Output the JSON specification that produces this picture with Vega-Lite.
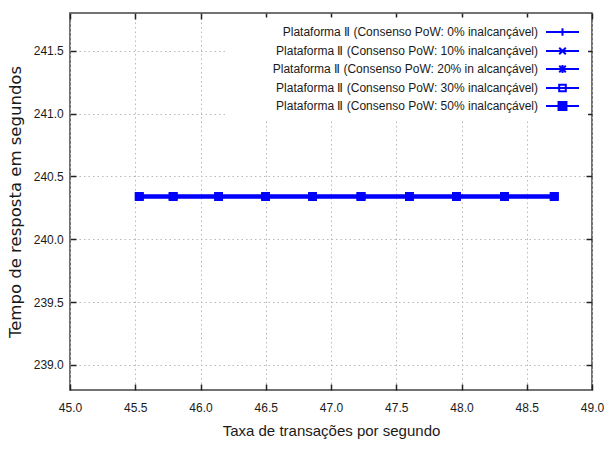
{
  "$schema": "https://vega.github.io/schema/vega-lite/v6.json",
  "width": 522,
  "height": 377,
  "autosize": "none",
  "padding": {"left": 70, "top": 13, "right": 13, "bottom": 59},
  "background": "white",
  "config": {
    "view": {"stroke": "#444444", "strokeWidth": 1.5},
    "font": "Liberation Sans"
  },
  "data": {
    "values": [
      {"taxa": 45.53, "tempo": 240.34, "serie": "Plataforma Ⅱ (Consenso PoW: 0% inalcançável)"},
      {"taxa": 45.79, "tempo": 240.34, "serie": "Plataforma Ⅱ (Consenso PoW: 0% inalcançável)"},
      {"taxa": 46.14, "tempo": 240.34, "serie": "Plataforma Ⅱ (Consenso PoW: 0% inalcançável)"},
      {"taxa": 46.50, "tempo": 240.34, "serie": "Plataforma Ⅱ (Consenso PoW: 0% inalcançável)"},
      {"taxa": 46.86, "tempo": 240.34, "serie": "Plataforma Ⅱ (Consenso PoW: 0% inalcançável)"},
      {"taxa": 47.23, "tempo": 240.34, "serie": "Plataforma Ⅱ (Consenso PoW: 0% inalcançável)"},
      {"taxa": 47.60, "tempo": 240.34, "serie": "Plataforma Ⅱ (Consenso PoW: 0% inalcançável)"},
      {"taxa": 47.96, "tempo": 240.34, "serie": "Plataforma Ⅱ (Consenso PoW: 0% inalcançável)"},
      {"taxa": 48.33, "tempo": 240.34, "serie": "Plataforma Ⅱ (Consenso PoW: 0% inalcançável)"},
      {"taxa": 48.71, "tempo": 240.34, "serie": "Plataforma Ⅱ (Consenso PoW: 0% inalcançável)"},
      {"taxa": 45.53, "tempo": 240.34, "serie": "Plataforma Ⅱ (Consenso PoW: 10% inalcançável)"},
      {"taxa": 45.79, "tempo": 240.34, "serie": "Plataforma Ⅱ (Consenso PoW: 10% inalcançável)"},
      {"taxa": 46.14, "tempo": 240.34, "serie": "Plataforma Ⅱ (Consenso PoW: 10% inalcançável)"},
      {"taxa": 46.50, "tempo": 240.34, "serie": "Plataforma Ⅱ (Consenso PoW: 10% inalcançável)"},
      {"taxa": 46.86, "tempo": 240.34, "serie": "Plataforma Ⅱ (Consenso PoW: 10% inalcançável)"},
      {"taxa": 47.23, "tempo": 240.34, "serie": "Plataforma Ⅱ (Consenso PoW: 10% inalcançável)"},
      {"taxa": 47.60, "tempo": 240.34, "serie": "Plataforma Ⅱ (Consenso PoW: 10% inalcançável)"},
      {"taxa": 47.96, "tempo": 240.34, "serie": "Plataforma Ⅱ (Consenso PoW: 10% inalcançável)"},
      {"taxa": 48.33, "tempo": 240.34, "serie": "Plataforma Ⅱ (Consenso PoW: 10% inalcançável)"},
      {"taxa": 48.71, "tempo": 240.34, "serie": "Plataforma Ⅱ (Consenso PoW: 10% inalcançável)"},
      {"taxa": 45.53, "tempo": 240.34, "serie": "Plataforma Ⅱ (Consenso PoW: 20% in alcançável)"},
      {"taxa": 45.79, "tempo": 240.34, "serie": "Plataforma Ⅱ (Consenso PoW: 20% in alcançável)"},
      {"taxa": 46.14, "tempo": 240.34, "serie": "Plataforma Ⅱ (Consenso PoW: 20% in alcançável)"},
      {"taxa": 46.50, "tempo": 240.34, "serie": "Plataforma Ⅱ (Consenso PoW: 20% in alcançável)"},
      {"taxa": 46.86, "tempo": 240.34, "serie": "Plataforma Ⅱ (Consenso PoW: 20% in alcançável)"},
      {"taxa": 47.23, "tempo": 240.34, "serie": "Plataforma Ⅱ (Consenso PoW: 20% in alcançável)"},
      {"taxa": 47.60, "tempo": 240.34, "serie": "Plataforma Ⅱ (Consenso PoW: 20% in alcançável)"},
      {"taxa": 47.96, "tempo": 240.34, "serie": "Plataforma Ⅱ (Consenso PoW: 20% in alcançável)"},
      {"taxa": 48.33, "tempo": 240.34, "serie": "Plataforma Ⅱ (Consenso PoW: 20% in alcançável)"},
      {"taxa": 48.71, "tempo": 240.34, "serie": "Plataforma Ⅱ (Consenso PoW: 20% in alcançável)"},
      {"taxa": 45.53, "tempo": 240.34, "serie": "Plataforma Ⅱ (Consenso PoW: 30% inalcançável)"},
      {"taxa": 45.79, "tempo": 240.34, "serie": "Plataforma Ⅱ (Consenso PoW: 30% inalcançável)"},
      {"taxa": 46.14, "tempo": 240.34, "serie": "Plataforma Ⅱ (Consenso PoW: 30% inalcançável)"},
      {"taxa": 46.50, "tempo": 240.34, "serie": "Plataforma Ⅱ (Consenso PoW: 30% inalcançável)"},
      {"taxa": 46.86, "tempo": 240.34, "serie": "Plataforma Ⅱ (Consenso PoW: 30% inalcançável)"},
      {"taxa": 47.23, "tempo": 240.34, "serie": "Plataforma Ⅱ (Consenso PoW: 30% inalcançável)"},
      {"taxa": 47.60, "tempo": 240.34, "serie": "Plataforma Ⅱ (Consenso PoW: 30% inalcançável)"},
      {"taxa": 47.96, "tempo": 240.34, "serie": "Plataforma Ⅱ (Consenso PoW: 30% inalcançável)"},
      {"taxa": 48.33, "tempo": 240.34, "serie": "Plataforma Ⅱ (Consenso PoW: 30% inalcançável)"},
      {"taxa": 48.71, "tempo": 240.34, "serie": "Plataforma Ⅱ (Consenso PoW: 30% inalcançável)"},
      {"taxa": 45.53, "tempo": 240.34, "serie": "Plataforma Ⅱ (Consenso PoW: 50% inalcançável)"},
      {"taxa": 45.79, "tempo": 240.34, "serie": "Plataforma Ⅱ (Consenso PoW: 50% inalcançável)"},
      {"taxa": 46.14, "tempo": 240.34, "serie": "Plataforma Ⅱ (Consenso PoW: 50% inalcançável)"},
      {"taxa": 46.50, "tempo": 240.34, "serie": "Plataforma Ⅱ (Consenso PoW: 50% inalcançável)"},
      {"taxa": 46.86, "tempo": 240.34, "serie": "Plataforma Ⅱ (Consenso PoW: 50% inalcançável)"},
      {"taxa": 47.23, "tempo": 240.34, "serie": "Plataforma Ⅱ (Consenso PoW: 50% inalcançável)"},
      {"taxa": 47.60, "tempo": 240.34, "serie": "Plataforma Ⅱ (Consenso PoW: 50% inalcançável)"},
      {"taxa": 47.96, "tempo": 240.34, "serie": "Plataforma Ⅱ (Consenso PoW: 50% inalcançável)"},
      {"taxa": 48.33, "tempo": 240.34, "serie": "Plataforma Ⅱ (Consenso PoW: 50% inalcançável)"},
      {"taxa": 48.71, "tempo": 240.34, "serie": "Plataforma Ⅱ (Consenso PoW: 50% inalcançável)"}
    ]
  },
  "layer": [
    {
      "mark": {"type": "line", "color": "#0000ff", "strokeWidth": 3.5},
      "encoding": {
        "x": {
          "field": "taxa",
          "type": "quantitative",
          "scale": {"domain": [45, 49], "nice": false, "zero": false},
          "axis": {
            "values": [45, 45.5, 46, 46.5, 47, 47.5, 48, 48.5, 49],
            "format": ".1f",
            "grid": true,
            "gridColor": "#b8b8b8",
            "gridDash": [1.5, 3],
            "gridWidth": 1,
            "domain": false,
            "tickSize": -6,
            "tickColor": "#222222",
            "tickWidth": 1.5,
            "labelPadding": 18.5,
            "labelFlush": false,
            "labelOverlap": false,
            "labelFont": "Liberation Sans",
            "labelFontSize": 12,
            "labelColor": "#1a1a1a",
            "title": "Taxa de transações por segundo",
            "titleFont": "Liberation Sans",
            "titleFontSize": 15,
            "titleFontWeight": "normal",
            "titleColor": "#1a1a1a",
            "titlePadding": 10
          }
        },
        "y": {
          "field": "tempo",
          "type": "quantitative",
          "scale": {"domain": [238.8, 241.8], "nice": false, "zero": false},
          "axis": {
            "values": [239, 239.5, 240, 240.5, 241, 241.5],
            "format": ".1f",
            "grid": true,
            "gridColor": "#b8b8b8",
            "gridDash": [1.5, 3],
            "gridWidth": 1,
            "domain": false,
            "tickSize": -6,
            "tickColor": "#222222",
            "tickWidth": 1.5,
            "labelPadding": 12.7,
            "labelFlush": false,
            "labelOverlap": false,
            "labelFont": "Liberation Sans",
            "labelFontSize": 12,
            "labelColor": "#1a1a1a",
            "title": "Tempo de resposta em segundos",
            "titleFont": "DejaVu Sans",
            "titleFontSize": 16.5,
            "titleFontWeight": "normal",
            "titleColor": "#1a1a1a",
            "titlePadding": 10
          }
        },
        "detail": {"field": "serie", "type": "nominal"}
      }
    },
    {
      "mark": {"type": "point", "shape": "square", "filled": true, "color": "#0000ff", "size": 72, "opacity": 1},
      "encoding": {
        "x": {"field": "taxa", "type": "quantitative", "axis": null},
        "y": {"field": "tempo", "type": "quantitative", "axis": null}
      }
    },
    {
      "mark": {"type": "point", "filled": true, "opacity": 0, "stroke": "#0000ff", "strokeWidth": 2, "size": 1089},
      "encoding": {
        "x": {
          "field": "taxa",
          "type": "quantitative",
          "axis": {
            "orient": "top",
            "values": [45, 45.5, 46, 46.5, 47, 47.5, 48, 48.5, 49],
            "labels": false,
            "grid": false,
            "domain": false,
            "tickSize": -6,
            "tickColor": "#222222",
            "tickWidth": 1.5,
            "title": null
          }
        },
        "y": {
          "field": "tempo",
          "type": "quantitative",
          "axis": {
            "orient": "right",
            "values": [239, 239.5, 240, 240.5, 241, 241.5],
            "labels": false,
            "grid": false,
            "domain": false,
            "tickSize": -6,
            "tickColor": "#222222",
            "tickWidth": 1.5,
            "title": null
          }
        },
        "shape": {
          "field": "serie",
          "type": "nominal",
          "scale": {
            "domain": [
              "Plataforma Ⅱ (Consenso PoW: 0% inalcançável)",
              "Plataforma Ⅱ (Consenso PoW: 10% inalcançável)",
              "Plataforma Ⅱ (Consenso PoW: 20% in alcançável)",
              "Plataforma Ⅱ (Consenso PoW: 30% inalcançável)",
              "Plataforma Ⅱ (Consenso PoW: 50% inalcançável)"
            ],
            "range": [
              "M-1,0H1M0,-0.22V0.22",
              "M-1,0H1M-0.2,-0.2L0.2,0.2M-0.2,0.2L0.2,-0.2",
              "M-1,0H1M0,-0.24V0.24M-0.2,-0.2L0.2,0.2M-0.2,0.2L0.2,-0.2",
              "M-1,0H1M-0.2,-0.2H0.2V0.2H-0.2Z",
              "M-1,0H1M-0.24,-0.24H0.24V0.24H-0.24Z"
            ]
          },
          "legend": {
            "orient": "none",
            "legendX": 155,
            "legendY": 4.5,
            "title": null,
            "fillColor": "white",
            "padding": 5,
            "rowPadding": 1,
            "labelFont": "Liberation Sans",
            "labelFontSize": 12,
            "labelColor": "#1a1a1a",
            "labelLimit": 0,
            "labelAlign": "right",
            "symbolSize": 1089,
            "symbolStrokeWidth": 2,
            "symbolStrokeColor": "#0000ff",
            "symbolOpacity": 1,
            "encode": {
              "symbols": {"update": {"x": {"value": 332.5}, "y": {"value": 9.5}, "opacity": {"value": 1}}},
              "labels": {"update": {"x": {"value": 308}, "y": {"value": 9.5}}}
            }
          }
        },
        "fill": {
          "field": "serie",
          "type": "nominal",
          "scale": {
            "domain": [
              "Plataforma Ⅱ (Consenso PoW: 0% inalcançável)",
              "Plataforma Ⅱ (Consenso PoW: 10% inalcançável)",
              "Plataforma Ⅱ (Consenso PoW: 20% in alcançável)",
              "Plataforma Ⅱ (Consenso PoW: 30% inalcançável)",
              "Plataforma Ⅱ (Consenso PoW: 50% inalcançável)"
            ],
            "range": ["transparent", "transparent", "transparent", "transparent", "#0000ff"]
          },
          "legend": {
            "orient": "none",
            "legendX": 155,
            "legendY": 4.5,
            "title": null,
            "fillColor": "white",
            "padding": 5,
            "rowPadding": 1,
            "labelFont": "Liberation Sans",
            "labelFontSize": 12,
            "labelColor": "#1a1a1a",
            "labelLimit": 0,
            "labelAlign": "right",
            "symbolSize": 1089,
            "symbolStrokeWidth": 2,
            "symbolStrokeColor": "#0000ff",
            "symbolOpacity": 1,
            "encode": {
              "symbols": {"update": {"x": {"value": 332.5}, "y": {"value": 9.5}, "opacity": {"value": 1}}},
              "labels": {"update": {"x": {"value": 308}, "y": {"value": 9.5}}}
            }
          }
        }
      }
    }
  ],
  "resolve": {"axis": {"x": "independent", "y": "independent"}}
}
